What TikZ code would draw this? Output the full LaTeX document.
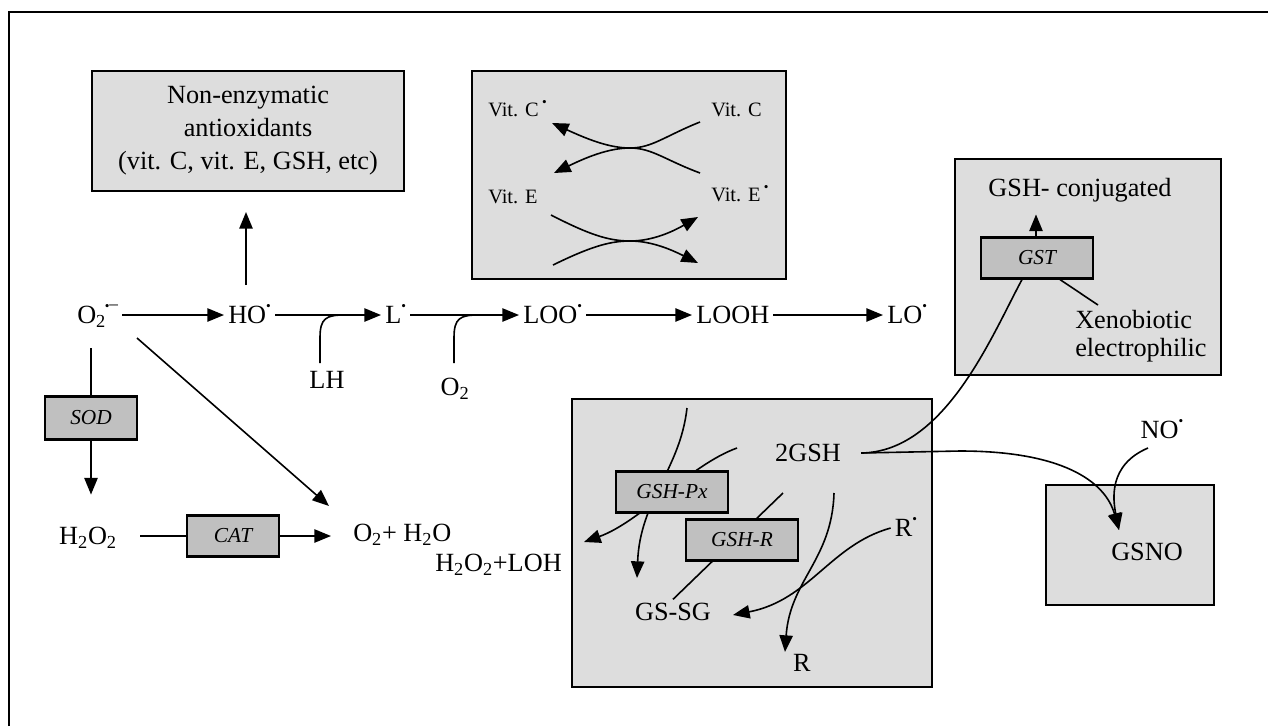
\documentclass[tikz,border=0pt]{standalone}
\usepackage{fontspec}
\setmainfont{Liberation Serif}
\usepackage{amsmath}
\usetikzlibrary{arrows.meta,calc}
\definecolor{boxgray}{HTML}{DDDDDD}
\definecolor{enzgray}{HTML}{C0C0C0}
\newcommand\rdot{\raisebox{0.52em}{\fontsize{10}{10}\selectfont\textbullet}}
\newcommand\mainsize{\fontsize{19.7}{24.75}\selectfont}
\begin{document}
\begin{tikzpicture}[x=0.75pt,y=-0.75pt,
  arr/.style={-{Triangle[length=12.5pt,width=10pt]}, line width=1.2pt},
  ln/.style={line width=1.2pt},
  wh/.style 2 args={minimum width=#1*0.75pt, minimum height=#2*0.75pt},
  bigbox/.style={draw, line width=1.6pt, fill=boxgray, inner sep=0pt},
  enz/.style={draw, line width=1.6pt, fill=enzgray, inner sep=0pt, font=\fontsize{16}{18}\selectfont\itshape},
  sp/.style={inner xsep=3pt, inner ysep=0pt, text height=15.8pt, text depth=2.8pt, font=\mainsize},
  vit/.style={inner sep=0pt, text height=10.2pt, text depth=0pt, font=\fontsize{15.3}{18}\selectfont, anchor=west},
]
\useasboundingbox (0,0) rectangle (1268,726);
% outer frame
\draw[line width=1.5pt] (9,726) -- (9,12) -- (1268,12);

% big boxes
\node[bigbox, wh={312}{120}] (nonenz) at (248,131) {};
\node[bigbox, wh={314}{208}] (vitbox) at (629,175) {};
\node[bigbox, wh={266}{216}] (conjbox) at (1088,267) {};
\node[bigbox, wh={360}{288}] (gshbox) at (752,543) {};
\node[bigbox, wh={168}{120}] (gsnobox) at (1130,545) {};

\node[font=\mainsize, align=center] (nonenztxt) at (248,131) {Non-enzymatic\\antioxidants\\(vit. C, vit. E, GSH, etc)};

% vitamin box
\node[vit] (vcl) at (488,110) {Vit. C\,\rdot};
\node[vit] (vel) at (488,197) {Vit. E};
\node[vit] (vcr) at (711,110) {Vit. C};
\node[vit] (ver) at (711,195) {Vit. E\,\rdot};
\coordinate (c1s) at (700,122); \coordinate (c1e) at (552,123);
\coordinate (c2s) at (700,173); \coordinate (c2e) at (554,173);
\coordinate (e1s) at (551,215); \coordinate (e1e) at (698,217);
\coordinate (e2s) at (553,265); \coordinate (e2e) at (698,263);
\draw[arr] (c1s) .. controls (665,136) and (652,148) .. (630,148) .. controls (608,148) and (585,138) .. (c1e);
\draw[arr] (c2s) .. controls (665,160) and (652,148) .. (630,148) .. controls (608,148) and (585,158) .. (c2e);
\draw[arr] (e1s) .. controls (588,234) and (608,241) .. (630,241) .. controls (652,241) and (672,232) .. (e1e);
\draw[arr] (e2s) .. controls (588,248) and (608,241) .. (630,241) .. controls (652,241) and (672,250) .. (e2e);

% main row
\node[sp, anchor=west] (o2) at (73,315) {O$_{\text{2}}$\kern-0.05em\raisebox{0.52em}{\fontsize{10}{10}\selectfont\textbullet\fontsize{13}{13}\selectfont\raisebox{0.02em}{–}}};
\node[sp, anchor=west] (ho) at (224,315) {HO\rdot};
\node[sp, anchor=west] (l) at (381,315) {L\rdot};
\node[sp, anchor=west] (loo) at (519,315) {LOO\rdot};
\node[sp, anchor=west] (looh) at (692,315) {LOOH};
\node[sp, anchor=west] (lo) at (883,315) {LO\rdot};
\draw[arr] (o2) -- (ho);
\draw[arr] (ho) -- (l);
\draw[arr] (l) -- (loo);
\draw[arr] (loo) -- (looh);
\draw[arr] (looh) -- (lo);

\node[sp] (lh) at (327,380) {LH};
\node[sp] (o2b) at (455,387) {O\textsubscript{2}};
\coordinate (lhs) at (320,363);
\coordinate (o2s) at (454,363);
\draw[ln] (lhs) -- (320,338) .. controls (320,318) and (326,315) .. (345,315);
\draw[ln] (o2s) -- (454,338) .. controls (454,318) and (460,315) .. (479,315);

% up to non-enzymatic
\coordinate (houp) at (246,285);
\coordinate (hotip) at (246,212);
\draw[arr] (houp) -- (hotip);

% SOD / CAT
\node[enz, wh={92}{43}] (sod) at (91,418) {SOD};
\node[enz, wh={92}{41}] (cat) at (233,536) {CAT};
\node[sp] (h2o2) at (88,536) {H\textsubscript{2}O\textsubscript{2}};
\node[sp, anchor=west] (o2h2o) at (349,533) {O\textsubscript{2}+ H\textsubscript{2}O};
\node[sp, anchor=west] (h2o2loh) at (431,563) {H\textsubscript{2}O\textsubscript{2}+LOH};
\draw[ln] ($(sod.north)+(0,-47)$) -- (sod.north);
\draw[arr] (sod.south) -- ($(sod.south)+(0,54)$);
\draw[ln] ($(h2o2.east)+(19,0)$) -- (cat.west);
\draw[arr] (cat.east) -- ($(cat.east -| o2h2o.west)+(-18,0)$);
\coordinate (diag1) at (137,338);
\coordinate (diag2) at (329,506);
\draw[arr] (diag1) -- (diag2);

% GST box
\node[font=\mainsize] (gshconj) at (1080,190) {GSH- conjugated};
\node[enz, wh={112}{41}] (gst) at (1037,258) {GST};
\draw[arr] ($(gst.north)+(-1,0)$) -- ++(0,-22);
\node[font=\fontsize{19.7}{21}\selectfont, align=left, anchor=west, inner sep=0pt] (xeno) at (1075,336) {Xenobiotic\\electrophilic};
\coordinate (xenoend) at (1098,305);
\draw[ln] ($(gst.south)+(23,0)$) -- (xenoend);

% GSH box
\node[sp] (gsh2) at (808,453) {2GSH};
\node[sp] (gssg) at (673,612) {GS-SG};
\node[sp] (r) at (802,663) {R};
\node[sp] (rdot) at (906,528) {R\rdot};
\coordinate (p1s) at (687,408); \coordinate (p1e) at (637,578);
\coordinate (p2s) at (737,448); \coordinate (p2e) at (584,542);
\coordinate (r1s) at (783,493);
\coordinate (r2s) at (834,493); \coordinate (r2e) at (785,652);
\coordinate (rde) at (733,615);
\draw[arr] (p1s) .. controls (680,470) and (640,500) .. (p1e);
\draw[arr] (p2s) .. controls (690,465) and (640,522) .. (p2e);
\draw[ln] (r1s) -- (gssg.north);
\draw[arr] (r2s) .. controls (832,560) and (790,580) .. (r2e);
\draw[arr] (rdot.west) .. controls (830,545) and (810,600) .. (rde);
\node[enz, wh={112}{41}] (gpx) at (672,492) {GSH-Px};
\node[enz, wh={112}{41}] (gr) at (742,540) {GSH-R};

% GSH to GST and GSNO
\coordinate (gs) at ($(gsh2.east)+(16,0)$);
\coordinate (nohit) at (1119,530);
\draw[ln] (gs) .. controls (945,452) and (992,335) .. ($(gst.south)+(-15,0)$);
\draw[arr] (gs) -- (960,451) .. controls (1060,451) and (1105,480) .. (nohit);
\node[sp] (no) at (1162,430) {NO\rdot};
\coordinate (nos) at (1148,448);
\draw[arr] (nos) .. controls (1108,465) and (1113,500) .. (nohit);
\node[sp] (gsno) at (1147,552) {GSNO};
\end{tikzpicture}
\end{document}
